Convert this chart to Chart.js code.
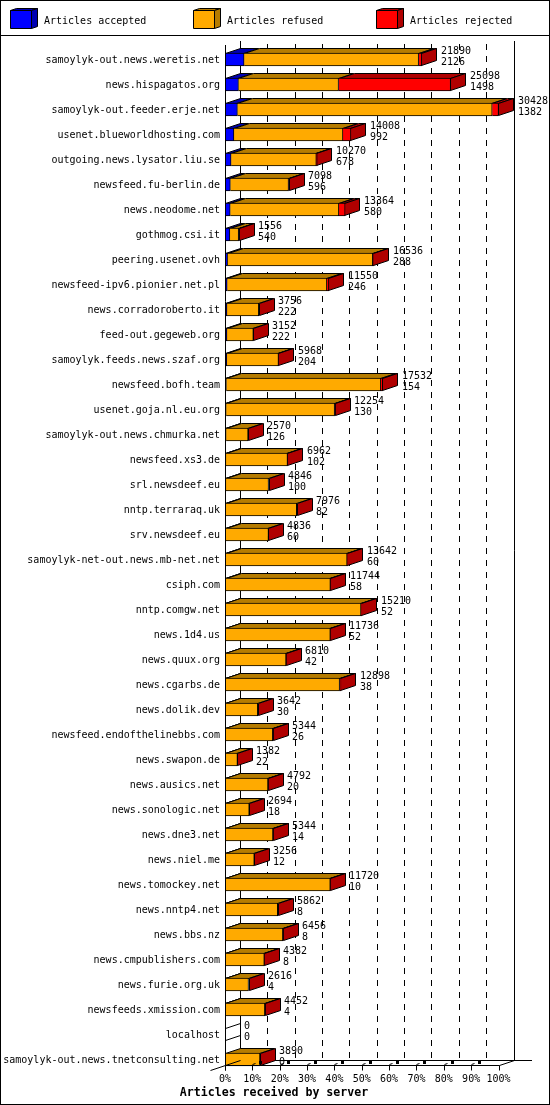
<!DOCTYPE html>
<html>
<head>
<meta charset="utf-8">
<title>Articles received by server</title>
<script src="https://cdn.jsdelivr.net/npm/chart.js@4/dist/chart.umd.min.js"></script>
<style>
    html, body { margin: 0; padding: 0; background: #fff; }
    canvas { display: block; }
</style>
</head>
<body>
<canvas id="serverChart" width="550" height="1105"></canvas>
<script>
const servers = [
    'samoylyk-out.news.weretis.net', 'news.hispagatos.org', 'samoylyk-out.feeder.erje.net',
    'usenet.blueworldhosting.com', 'outgoing.news.lysator.liu.se', 'newsfeed.fu-berlin.de',
    'news.neodome.net', 'gothmog.csi.it', 'peering.usenet.ovh', 'newsfeed-ipv6.pionier.net.pl',
    'news.corradoroberto.it', 'feed-out.gegeweb.org', 'samoylyk.feeds.news.szaf.org',
    'newsfeed.bofh.team', 'usenet.goja.nl.eu.org', 'samoylyk-out.news.chmurka.net',
    'newsfeed.xs3.de', 'srl.newsdeef.eu', 'nntp.terraraq.uk', 'srv.newsdeef.eu',
    'samoylyk-net-out.news.mb-net.net', 'csiph.com', 'nntp.comgw.net', 'news.1d4.us',
    'news.quux.org', 'news.cgarbs.de', 'news.dolik.dev', 'newsfeed.endofthelinebbs.com',
    'news.swapon.de', 'news.ausics.net', 'news.sonologic.net', 'news.dne3.net', 'news.niel.me',
    'news.tomockey.net', 'news.nntp4.net', 'news.bbs.nz', 'news.cmpublishers.com',
    'news.furie.org.uk', 'newsfeeds.xmission.com', 'localhost',
    'samoylyk-out.news.tnetconsulting.net'
];

// printed next to each bar
const totals = [
    21890, 25098, 30428, 14008, 10270, 7098, 13364, 1556, 16536, 11550,
    3756, 3152, 5968, 17532, 12254, 2570, 6962, 4846, 7976, 4836,
    13642, 11744, 15210, 11736, 6810, 12898, 3642, 5344, 1382, 4792,
    2694, 5344, 3256, 11720, 5862, 6456, 4382, 2616, 4452, 0, 3890
];
const accepted = [
    2126, 1498, 1382, 992, 678, 596, 580, 540, 288, 246,
    222, 222, 204, 154, 130, 126, 102, 100, 82, 60,
    60, 58, 52, 52, 42, 38, 30, 26, 22, 20,
    18, 14, 12, 10, 8, 8, 8, 4, 4, 0, 0
];
const refused = [
    19414, 11135, 28346, 12126, 9482, 6472, 12084, 976, 16148, 11084,
    3534, 2930, 5744, 17178, 12064, 2444, 6850, 4746, 7894, 4776,
    13522, 11666, 15078, 11664, 6748, 12710, 3612, 5288, 1360, 4762,
    2676, 5320, 3244, 11700, 5854, 6428, 4364, 2612, 4428, 0, 3890
];
const rejected = [
    350, 12465, 700, 890, 110, 30, 700, 40, 100, 220,
    0, 0, 20, 200, 60, 0, 10, 0, 0, 0,
    60, 20, 80, 20, 20, 150, 0, 30, 0, 10,
    0, 10, 0, 10, 0, 20, 10, 0, 20, 0, 0
];

const seriesNames = ['Articles accepted', 'Articles refused', 'Articles rejected'];
const xMax = 30428;
const tickPercents = [0, 10, 20, 30, 40, 50, 60, 70, 80, 90, 100];
const tickLabels = ['0%', '10%', '20%', '30%', '40%', '50%', '60%', '70%', '80%', '90%', '100%'];
const xTitle = 'Articles received by server';

const frontColors = ['#0000ff', '#ffaa00', '#ff0000'];
const darkColors = ['#0000b2', '#b67c00', '#b00000'];

const DEPTH_X = 15;
const DEPTH_Y = 5;
const MONO = '"DejaVu Sans Mono", monospace';

function poly(ctx, points, fill) {
    ctx.beginPath();
    points.forEach((p, i) => i ? ctx.lineTo(p[0], p[1]) : ctx.moveTo(p[0], p[1]));
    ctx.closePath();
    if (fill) {
        ctx.fillStyle = fill;
        ctx.fill();
    }
    ctx.stroke();
}

function line(ctx, x1, y1, x2, y2) {
    ctx.beginPath();
    ctx.moveTo(x1, y1);
    ctx.lineTo(x2, y2);
    ctx.stroke();
}

// Walls, dashed grid and floor of the 3D box
const boxPlugin = {
    id: 'box',
    beforeDatasetsDraw(chart) {
        const ctx = chart.ctx;
        const xs = chart.scales.x;
        const floorBack = 1060.5;
        const wallTop = 41;
        ctx.save();
        ctx.strokeStyle = '#000';
        ctx.lineWidth = 1;

        ctx.setLineDash([6, 6]);
        ctx.lineDashOffset = 9;
        tickPercents.slice(1, -1).forEach(p => {
            const x = Math.round(xs.getPixelForValue(xMax * p / 100)) + DEPTH_X + 0.5;
            line(ctx, x, wallTop, x, floorBack);
        });
        ctx.setLineDash([]);

        const backLeft = Math.round(xs.left) + DEPTH_X + 0.5;
        const backRight = Math.round(xs.right) + DEPTH_X + 0.5;
        line(ctx, backLeft, wallTop, backLeft, floorBack);
        line(ctx, backRight, wallTop, backRight, floorBack);
        line(ctx, backLeft, floorBack, 532, floorBack);
        ctx.restore();
    },
    afterDatasetsDraw(chart) {
        const ctx = chart.ctx;
        const xs = chart.scales.x;
        const floorBack = 1060.5;
        const floorFront = floorBack + DEPTH_Y;
        const front = Math.round(xs.left) + 0.5;
        const frontRight = Math.round(xs.right) + 0.5;
        ctx.save();
        ctx.strokeStyle = '#000';
        ctx.fillStyle = '#000';
        ctx.lineWidth = 1;
        line(ctx, front, 45, front, floorFront + 5);
        line(ctx, front, floorFront, frontRight, floorFront);
        line(ctx, front - 15, floorFront + DEPTH_Y, front + DEPTH_X, floorBack);
        line(ctx, frontRight, floorFront, frontRight + DEPTH_X, floorBack);
        tickPercents.forEach(p => {
            const x = Math.round(xs.getPixelForValue(xMax * p / 100)) + 0.5;
            line(ctx, x, floorFront, x, floorFront + 5);
            // the dashed floor tick only shows as a stub and a short thick piece
            if (p > 1 && p < 100) {
                line(ctx, x, floorFront - 1, x + 3, floorFront - 2);
                ctx.fillRect(x + 6.5, floorBack + 0.5, 3, 3);
            }
        });
        ctx.restore();
    }
};

// Top and side faces behind each front rectangle
const facesPlugin = {
    id: 'faces',
    beforeDatasetsDraw(chart) {
        const ctx = chart.ctx;
        ctx.save();
        ctx.strokeStyle = '#000';
        ctx.lineWidth = 1;
        chart.data.datasets.forEach((ds, d) => {
            chart.getDatasetMeta(d).data.forEach((bar, i) => {
                const top = Math.round(bar.y - bar.height / 2) + 0.5;
                const bottom = top + bar.height - 1;
                const start = Math.round(bar.base) + 0.5;
                const end = Math.round(bar.x) - 0.5;
                if (ds.data[i] > 0) {
                    poly(ctx, [
                        [start, top], [start + DEPTH_X, top - DEPTH_Y],
                        [Math.max(end, start) + DEPTH_X, top - DEPTH_Y], [Math.max(end, start), top]
                    ], darkColors[d]);
                }
                if (d === chart.data.datasets.length - 1) {
                    const right = Math.max(end, start);
                    poly(ctx, [
                        [right, top], [right + DEPTH_X, top - DEPTH_Y],
                        [right + DEPTH_X, bottom - DEPTH_Y], [right, bottom]
                    ], totals[i] > 0 ? darkColors[d] : null);
                }
            });
        });
        ctx.restore();
    }
};

// Totals and accepted counts to the right of the bars
const countsPlugin = {
    id: 'counts',
    afterDatasetsDraw(chart) {
        const ctx = chart.ctx;
        const last = chart.data.datasets.length - 1;
        ctx.save();
        ctx.fillStyle = '#000';
        ctx.font = '10px ' + MONO;
        ctx.textAlign = 'left';
        ctx.textBaseline = 'middle';
        chart.getDatasetMeta(last).data.forEach((bar, i) => {
            const x = Math.round(bar.x) + DEPTH_X + 4;
            ctx.fillText(String(totals[i]), x, bar.y - 8);
            ctx.fillText(String(accepted[i]), x, bar.y + 3);
        });
        ctx.restore();
    }
};

// Frame, legend row and the x axis caption
const framePlugin = {
    id: 'frame',
    beforeDraw(chart) {
        const ctx = chart.ctx;
        ctx.save();
        ctx.fillStyle = '#fff';
        ctx.fillRect(0, 0, chart.width, chart.height);
        ctx.restore();
    },
    afterDraw(chart) {
        const ctx = chart.ctx;
        ctx.save();
        ctx.strokeStyle = '#000';
        ctx.lineWidth = 1;
        ctx.strokeRect(0.5, 0.5, chart.width - 1, chart.height - 1);
        line(ctx, 0, 35.5, chart.width, 35.5);

        seriesNames.forEach((name, i) => {
            const x = 10.5 + i * 183;
            const top = 10.5;
            const w = 21;
            const h = 18;
            poly(ctx, [[x, top], [x + 6, top - 2], [x + w + 6, top - 2], [x + w, top]], darkColors[i]);
            poly(ctx, [[x + w, top], [x + w + 6, top - 2], [x + w + 6, top + h - 2], [x + w, top + h]], darkColors[i]);
            poly(ctx, [[x, top], [x + w, top], [x + w, top + h], [x, top + h]], frontColors[i]);
            ctx.fillStyle = '#000';
            ctx.font = '10px ' + MONO;
            ctx.textAlign = 'left';
            ctx.textBaseline = 'middle';
            ctx.fillText(name, x + 33.5, 21);
        });

        ctx.fillStyle = '#000';
        ctx.font = 'bold 11.6px ' + MONO;
        ctx.textAlign = 'center';
        ctx.textBaseline = 'middle';
        ctx.fillText(xTitle, 274, 1093);
        ctx.restore();
    }
};

const datasets = [accepted, refused, rejected].map((values, i) => ({
    label: seriesNames[i],
    data: values,
    backgroundColor: frontColors[i],
    borderColor: '#000',
    borderWidth: 1,
    borderSkipped: 'left',
    barThickness: 13
}));

new Chart(document.getElementById('serverChart'), {
    type: 'bar',
    data: { labels: servers, datasets: datasets },
    plugins: [framePlugin, boxPlugin, facesPlugin, countsPlugin],
    options: {
        indexAxis: 'y',
        responsive: false,
        animation: false,
        devicePixelRatio: 1,
        layout: { padding: { top: 47, right: 51.5, bottom: 19, left: 0 } },
        plugins: {
            legend: { display: false },
            title: { display: false },
            tooltip: { enabled: false }
        },
        scales: {
            x: {
                stacked: true,
                min: 0,
                max: xMax,
                grid: { display: false, drawTicks: false, tickLength: 0 },
                border: { display: false },
                afterFit(scale) { scale.height = 14; },
                afterBuildTicks(scale) {
                    scale.ticks = tickPercents.map(p => ({ value: xMax * p / 100 }));
                },
                ticks: {
                    autoSkip: false,
                    maxRotation: 0,
                    padding: 1,
                    color: '#000',
                    font: { family: MONO, size: 10 },
                    callback: (value, index) => tickLabels[index]
                }
            },
            y: {
                stacked: true,
                grid: { display: false, drawTicks: false, tickLength: 0 },
                border: { display: false },
                afterFit(scale) { scale.width = 225; },
                ticks: {
                    autoSkip: false,
                    padding: 5,
                    labelOffset: 1,
                    color: '#000',
                    font: { family: MONO, size: 10 }
                }
            }
        }
    }
});
</script>
</body>
</html>
